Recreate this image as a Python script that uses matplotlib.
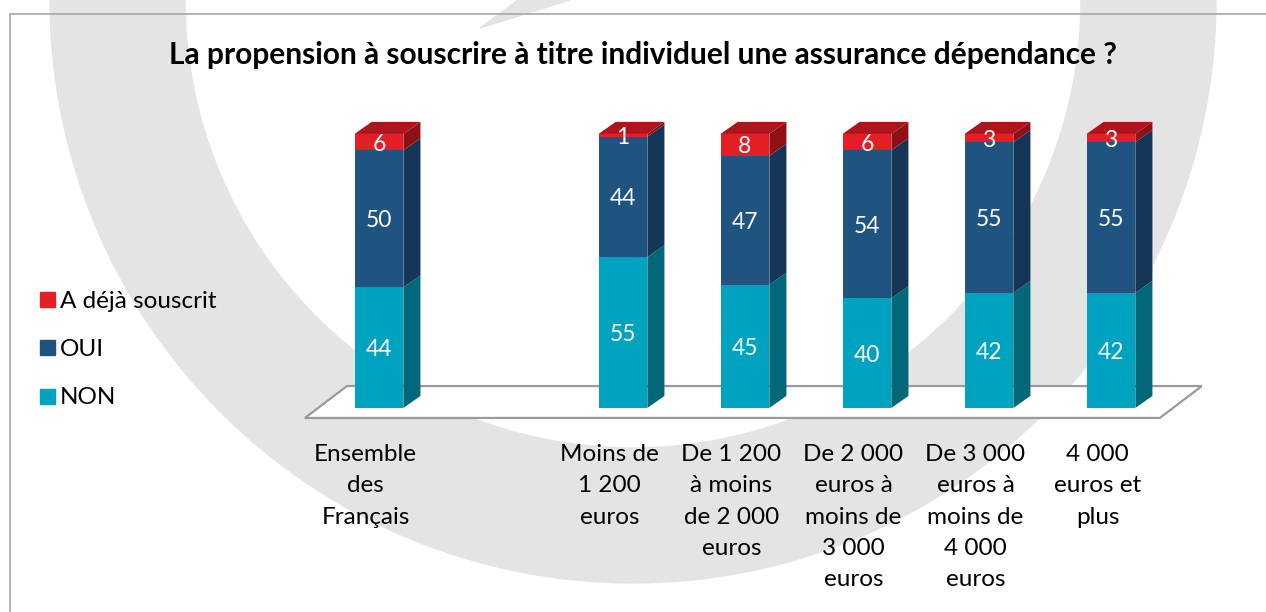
import numpy as np
import matplotlib
matplotlib.use("Agg")
import matplotlib.pyplot as plt
from matplotlib.patches import Polygon, Rectangle, Annulus

# data
categories = ["Ensemble\ndes\nFrançais", "", "Moins de\n1 200\neuros",
              "De 1 200\nà moins\nde 2 000\neuros",
              "De 2 000\neuros à\nmoins de\n3 000\neuros",
              "De 3 000\neuros à\nmoins de\n4 000\neuros",
              "4 000\neuros et\nplus"]
non = [44, np.nan, 55, 45, 40, 42, 42]
oui = [50, np.nan, 44, 47, 54, 55, 55]
deja = [6, np.nan, 1, 8, 6, 3, 3]
series_names = ["NON", "OUI", "A déjà souscrit"]
title = "La propension à souscrire à titre individuel une assurance dépendance ?"

# front / side / top colours per series
front_cols = ["#00a3bf", "#1f5380", "#e51d25"]
side_cols = ["#006878", "#163657", "#8f1117"]
top_cols = ["#00808f", "#1b4670", "#ad141b"]

plt.rcParams['font.family'] = ['Lato', 'DejaVu Sans']

fig = plt.figure(figsize=(12.66, 6.12), dpi=100)

# background: watermark ring, frame, title, legend (pixel coords)
bg = fig.add_axes([0, 0, 1, 1])
bg.set_xlim(0, 1266)
bg.set_ylim(612, 0)
bg.axis("off")
bg.add_patch(Annulus((633, 0), 583, 135, color="#e4e4e4", zorder=0))
bg.add_patch(Polygon([(480, 28), (518, 0), (570, 0)], closed=True,
                     color="#e4e4e4", zorder=0))
bg.plot([9.5, 9.5, 1266], [612, 14, 14], color="#a6a6a6", lw=1.2, zorder=1)
bg.text(643, 64, title, ha="center", va="baseline", fontsize=21.5,
        fontweight="bold", color="black")

for k, name in enumerate(reversed(series_names)):
    col = list(reversed(front_cols))[k]
    y = 299 + 48.5 * k
    bg.add_patch(Rectangle((40, y - 7.5), 15, 15, color=col, zorder=2))
    bg.text(60, y, name, va="center_baseline", ha="left", fontsize=17.5,
            color="black")

# chart axes
ax = fig.add_axes([0.2367, 0.311, 0.7131, 0.5149])
ax.set_xlim(-0.65, 6.75)
ax.set_ylim(-5, 110)
ax.patch.set_alpha(0)
ax.axis("off")

x = np.arange(len(categories))
w = 0.4          # bar front width
dx, dy = 0.14, 4.4   # bar depth

# floor
x0, x1 = x[0], x[-1]
floor = Polygon([(x0 - 0.607, -3.65), (x1 + 0.40, -3.65),
                 (x1 + 0.746, 8.0), (x0 - 0.262, 8.0)], closed=True,
                facecolor="white", edgecolor="#9a9a9a", lw=1.6, zorder=1)
ax.add_patch(floor)

stack = [non, oui, deja]
for i in x:
    if np.isnan(non[i]):
        continue
    bottom = 0
    for s, vals in enumerate(stack):
        v = vals[i]
        top = bottom + v
        l, r = i - w / 2, i + w / 2
        ax.add_patch(Polygon([(l, bottom), (r, bottom), (r, top), (l, top)],
                             closed=True, color=front_cols[s], zorder=3, lw=0))
        ax.add_patch(Polygon([(r, bottom), (r + dx, bottom + dy),
                              (r + dx, top + dy), (r, top)],
                             closed=True, color=side_cols[s], zorder=2.5 + s * 0.01, lw=0))
        if s == len(stack) - 1:
            ax.add_patch(Polygon([(l, top), (l + dx, top + dy),
                                  (r + dx, top + dy), (r, top)],
                                 closed=True, color=top_cols[s], zorder=3, lw=0))
        ax.text(i, bottom + v / 2, f"{v:g}", ha="center", va="center_baseline",
                color="white", fontsize=16.5, zorder=4)
        bottom = top

for i, cat in zip(x, categories):
    ax.text(i - 0.11, -13.2, cat, ha="center", va="top", fontsize=17.5,
            linespacing=1.6, multialignment="center", color="black")

fig.savefig("out.png", dpi=100)
